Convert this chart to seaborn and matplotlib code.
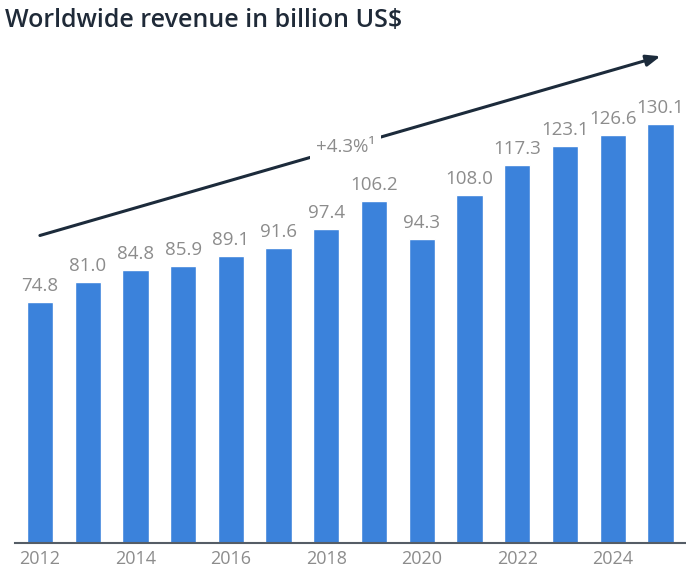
import matplotlib
matplotlib.use("Agg")
import matplotlib.pyplot as plt
import seaborn as sns
import pandas as pd

years = [2012, 2013, 2014, 2015, 2016, 2017, 2018, 2019, 2020, 2021, 2022, 2023, 2024, 2025]
revenue = [74.8, 81.0, 84.8, 85.9, 89.1, 91.6, 97.4, 106.2, 94.3, 108.0, 117.3, 123.1, 126.6, 130.1]
tick_years = [2012, 2014, 2016, 2018, 2020, 2022, 2024]
title_text = "Worldwide revenue in billion US$"
cagr_text = "+4.3%\u00b9"

sns.set_theme(style="white")
plt.rcParams["font.family"] = ["Open Sans", "DejaVu Sans"]

df = pd.DataFrame({"year": [str(y) for y in years], "revenue": revenue})

fig = plt.figure(figsize=(6.86, 5.76), dpi=100)
ax = fig.add_axes([0.022, 0.0573, 0.977, 0.873])

bar_blue = "#3b82db"
sns.barplot(data=df, x="year", y="revenue", color=bar_blue, width=0.55,
            saturation=1, ax=ax)

ax.set_ylim(0, 156)
ax.set_xlim(-0.52, len(years) - 1 + 0.52)

# value labels above each bar
for i, v in enumerate(revenue):
    ax.text(i, v + 2.2, f"{v:.1f}", ha="center", va="bottom",
            fontsize=13.5, color="#8c8c8c")

# x ticks every second year
pos = [years.index(y) for y in tick_years]
ax.set_xticks(pos)
ax.set_xticklabels([str(y) for y in tick_years], fontsize=13, color="#8c8c8c")
ax.tick_params(axis="x", length=0, pad=5)
ax.set_yticks([])
ax.set_xlabel("")
ax.set_ylabel("")

for s in ["top", "right", "left"]:
    ax.spines[s].set_visible(False)
ax.spines["bottom"].set_color("#555d66")
ax.spines["bottom"].set_linewidth(1.5)

# growth trend arrow
ax.annotate("", xy=(13, 151), xytext=(0, 95.4),
            arrowprops=dict(arrowstyle="-|>,head_length=0.7,head_width=0.28",
                            color="#1c2b3b", lw=2.2, shrinkA=0, shrinkB=0))
ax.text(6.4, 123, cagr_text, ha="center", va="center", fontsize=13.5,
        color="#8c8c8c",
        bbox=dict(boxstyle="square,pad=0.3", fc="white", ec="none"))

fig.text(0.008, 0.965, title_text, ha="left", va="center",
         fontsize=18, fontweight="semibold", color="#1f2a38")

fig.savefig("out.png", dpi=100)
